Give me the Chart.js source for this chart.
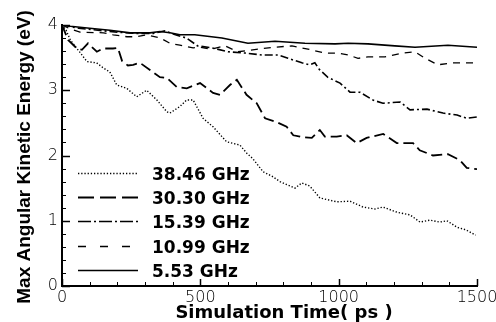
<!DOCTYPE html>
<html>
<head>
<meta charset="utf-8">
<script src="https://cdn.jsdelivr.net/npm/chart.js@4"></script>
<style>
  html, body { margin: 0; padding: 0; background: #fff; }
  canvas { display: block; }
</style>
</head>
<body>
<canvas id="c" width="496" height="322"></canvas>
<script>
// Series labels (legend order)
const seriesLabels = ['38.46 GHz', '30.30 GHz', '15.39 GHz', '10.99 GHz', '5.53 GHz'];

// 38.46 GHz
const time3846 = [0, 15, 30, 50, 65, 90, 125, 150, 173, 198, 234, 270, 306, 343, 379, 390, 426, 450, 474, 510, 546, 595, 643, 667, 690, 727, 760, 788, 842, 867, 896, 932, 993, 1041, 1088, 1131, 1160, 1211, 1258, 1294, 1330, 1366, 1391, 1428, 1460, 1495];
const energy3846 = [4.00, 3.92, 3.77, 3.66, 3.58, 3.44, 3.42, 3.34, 3.28, 3.08, 3.03, 2.90, 3.00, 2.85, 2.67, 2.65, 2.75, 2.85, 2.85, 2.57, 2.44, 2.21, 2.16, 2.04, 1.95, 1.75, 1.68, 1.60, 1.50, 1.58, 1.53, 1.35, 1.29, 1.30, 1.21, 1.18, 1.21, 1.13, 1.09, 0.98, 1.01, 0.98, 1.00, 0.90, 0.86, 0.78];

// 30.30 GHz
const time3030 = [0, 22, 54, 72, 94, 126, 148, 184, 202, 217, 238, 257, 282, 318, 354, 379, 415, 451, 499, 546, 571, 607, 632, 667, 704, 734, 777, 812, 836, 872, 903, 932, 950, 993, 1029, 1065, 1101, 1161, 1210, 1269, 1293, 1341, 1395, 1438, 1463, 1500];
const energy3030 = [4.00, 3.77, 3.64, 3.62, 3.72, 3.59, 3.64, 3.64, 3.65, 3.45, 3.38, 3.39, 3.42, 3.31, 3.20, 3.19, 3.05, 3.03, 3.11, 2.96, 2.93, 3.08, 3.16, 2.93, 2.80, 2.57, 2.51, 2.44, 2.31, 2.28, 2.27, 2.39, 2.29, 2.29, 2.31, 2.19, 2.27, 2.33, 2.19, 2.19, 2.08, 2.00, 2.02, 1.93, 1.81, 1.79];

// 15.39 GHz
const time1539 = [0, 60, 130, 200, 270, 330, 372, 410, 450, 490, 542, 600, 661, 723, 781, 817, 867, 896, 914, 930, 960, 1005, 1041, 1077, 1124, 1160, 1222, 1258, 1319, 1377, 1428, 1463, 1500];
const energy1539 = [4.00, 3.95, 3.92, 3.89, 3.87, 3.87, 3.91, 3.85, 3.80, 3.68, 3.65, 3.59, 3.57, 3.54, 3.54, 3.49, 3.42, 3.39, 3.42, 3.32, 3.20, 3.11, 2.97, 2.97, 2.85, 2.80, 2.82, 2.70, 2.71, 2.65, 2.62, 2.57, 2.59];

// 10.99 GHz
const time1099 = [0, 30, 65, 150, 185, 235, 270, 306, 355, 390, 426, 474, 500, 540, 589, 636, 708, 770, 831, 889, 950, 997, 1035, 1070, 1106, 1167, 1229, 1276, 1312, 1359, 1409, 1467, 1500];
const energy1099 = [4.00, 3.94, 3.89, 3.88, 3.85, 3.82, 3.82, 3.85, 3.80, 3.72, 3.69, 3.65, 3.66, 3.63, 3.68, 3.59, 3.63, 3.66, 3.68, 3.63, 3.57, 3.57, 3.54, 3.49, 3.51, 3.51, 3.57, 3.59, 3.49, 3.39, 3.42, 3.42, 3.42];

// 5.53 GHz
const time553 = [0, 30, 100, 173, 246, 318, 354, 390, 426, 480, 578, 672, 770, 878, 987, 1034, 1106, 1203, 1276, 1395, 1500];
const energy553 = [4.00, 3.98, 3.95, 3.92, 3.88, 3.88, 3.90, 3.88, 3.85, 3.85, 3.80, 3.72, 3.75, 3.72, 3.71, 3.72, 3.71, 3.68, 3.66, 3.69, 3.66];

// Labelled ticks
const xTickLabels = [0, 500, 1000, 1500];
const yTickLabels = [0, 1, 2, 3, 4];

const xTitle = 'Simulation Time( ps )';
const yTitle = 'Max Angular Kinetic Energy (eV)';

function toPoints(ts, es) { return ts.map((t, i) => ({ x: t, y: es[i] })); }

// dash patterns for the curves and for the (longer-period) legend samples
const lineStyles = [
  { borderDash: [1.3, 1.9], legendDash: [1.3, 1.9], borderWidth: 1.4 },
  { borderDash: [11, 5], legendDash: [16, 6], borderWidth: 1.8 },
  { borderDash: [8, 3, 2, 3], legendDash: [13, 3, 2, 3], borderWidth: 1.6 },
  { borderDash: [7, 6], legendDash: [8, 14], borderWidth: 1.3 },
  { borderDash: [], legendDash: [], borderWidth: 1.6 }
];
const seriesData = [
  toPoints(time3846, energy3846),
  toPoints(time3030, energy3030),
  toPoints(time1539, energy1539),
  toPoints(time1099, energy1099),
  toPoints(time553, energy553)
];

const datasets = seriesLabels.map((label, i) => ({
  label,
  data: seriesData[i],
  borderColor: '#000',
  backgroundColor: '#000',
  borderWidth: lineStyles[i].borderWidth,
  borderDash: lineStyles[i].borderDash,
  borderCapStyle: 'butt',
  pointRadius: 0,
  tension: 0,
  fill: false
}));

function isLabelled(list, v) {
  return list.some(l => Math.abs(l - v) < 1e-6);
}

// Inward tick marks, axis titles and the in-plot legend
const decorations = {
  id: 'decorations',
  afterDatasetsDraw(chart) {
    const { ctx, chartArea } = chart;
    const xs = chart.scales.x, ys = chart.scales.y;
    ctx.save();
    ctx.strokeStyle = '#000';
    xs.ticks.forEach(t => {
      const major = isLabelled(xTickLabels, t.value);
      const px = Math.round(xs.getPixelForValue(t.value)) + 0.5;
      ctx.lineWidth = major ? 1.5 : 1;
      ctx.beginPath();
      ctx.moveTo(px, chartArea.bottom);
      ctx.lineTo(px, chartArea.bottom - (major ? 7 : 4));
      ctx.stroke();
    });
    ys.ticks.forEach(t => {
      const major = isLabelled(yTickLabels, t.value);
      const py = Math.round(ys.getPixelForValue(t.value)) + 0.5;
      ctx.lineWidth = major ? 1.5 : 1;
      ctx.beginPath();
      ctx.moveTo(chartArea.left, py);
      ctx.lineTo(chartArea.left + (major ? 8 : 4), py);
      ctx.stroke();
    });

    // legend
    const lx0 = 78, lx1 = 138, tx = 152, ly0 = 173, dy = 24.2;
    ctx.fillStyle = '#000';
    ctx.font = "bold 17px 'DejaVu Sans'";
    ctx.textAlign = 'left';
    ctx.textBaseline = 'alphabetic';
    chart.data.datasets.forEach((ds, i) => {
      const y = Math.round(ly0 + i * dy) + 0.5;
      ctx.save();
      ctx.lineWidth = ds.borderWidth;
      ctx.setLineDash(lineStyles[i].legendDash);
      ctx.lineCap = 'butt';
      ctx.beginPath();
      ctx.moveTo(lx0, y);
      ctx.lineTo(lx1, y);
      ctx.stroke();
      ctx.restore();
      ctx.fillText(ds.label, tx, y + 6);
    });

    // axis titles
    ctx.font = "bold 18px 'DejaVu Sans'";
    ctx.textAlign = 'center';
    ctx.fillText(xTitle, 284, 318);
    ctx.save();
    ctx.translate(29.5, 157);
    ctx.rotate(-Math.PI / 2);
    ctx.font = "bold 19px 'Liberation Sans'";
    ctx.fillText(yTitle, 0, 0);
    ctx.restore();
    ctx.restore();
  }
};

const tickFont = { family: "'DejaVu Sans'", size: 16, weight: 200 };

new Chart(document.getElementById('c'), {
  type: 'line',
  data: { datasets },
  options: {
    responsive: false,
    animation: false,
    devicePixelRatio: 1,
    layout: { padding: { left: 0, right: 19, top: 25, bottom: 0 } },
    plugins: { legend: { display: false }, tooltip: { enabled: false } },
    scales: {
      x: {
        type: 'linear',
        min: 0, max: 1500,
        grid: { display: false, drawTicks: false },
        border: { display: true, color: '#000', width: 2 },
        ticks: {
          stepSize: 100,
          autoSkip: false,
          maxRotation: 0,
          padding: 2,
          color: '#000',
          font: tickFont,
          callback: v => isLabelled(xTickLabels, v) ? String(Math.round(v)) : ''
        },
        afterFit(s) { s.height = 36; s.paddingLeft = 0; s.paddingRight = 0; }
      },
      y: {
        type: 'linear',
        min: 0, max: 4,
        grid: { display: false, drawTicks: false },
        border: { display: true, color: '#000', width: 2 },
        ticks: {
          stepSize: 0.2,
          autoSkip: false,
          padding: 4,
          color: '#000',
          font: tickFont,
          callback: v => isLabelled(yTickLabels, v) ? String(Math.round(v)) : ''
        },
        afterFit(s) { s.width = 62; s.paddingTop = 0; s.paddingBottom = 0; }
      }
    }
  },
  plugins: [decorations]
});
</script>
</body>
</html>
